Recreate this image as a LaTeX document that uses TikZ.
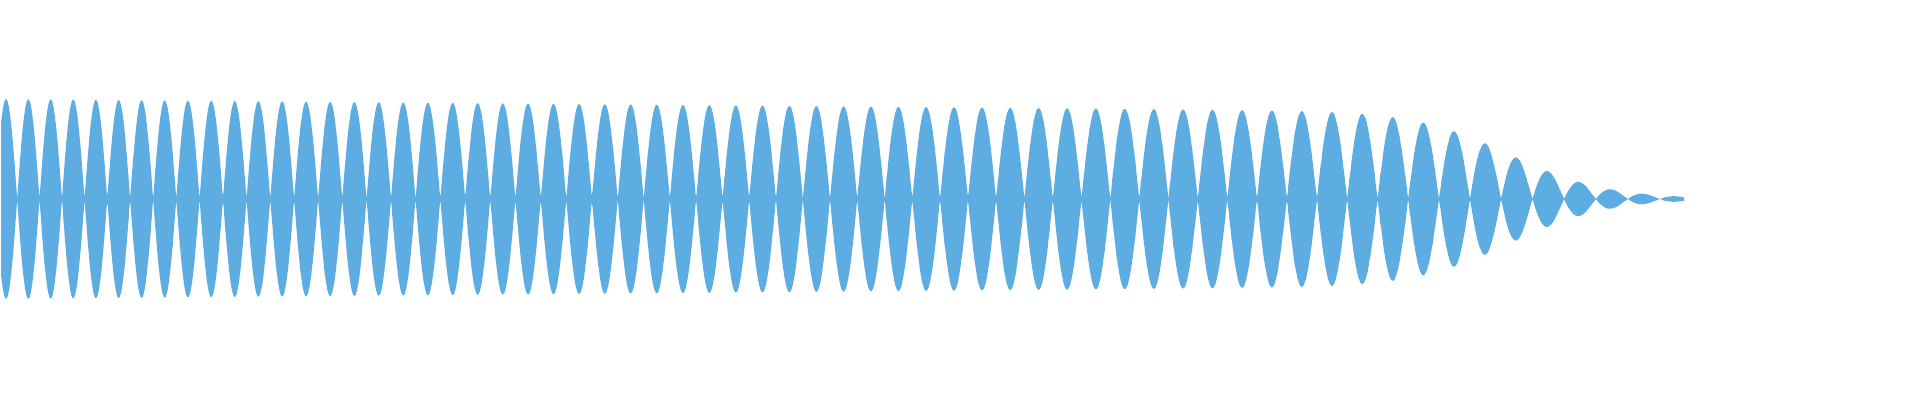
\documentclass[tikz,border=0pt]{standalone}
\definecolor{wave}{RGB}{93,173,226}
\begin{document}
\begin{tikzpicture}[x=1pt,y=1pt,
  declare function={
    env(\x)=(100-11*min(\x,1250)/1250)*(1-1/(1+exp(min(9,-9*((\x-1250)/433-0.6)))));
    ph(\x)=180*(164.47*ln(1+0.0002764*\x)+0.229);
    wv(\x)=env(\x)*abs(sin(ph(\x)));
  }]
\useasboundingbox (0,0) rectangle (1920,400);
\fill[wave] plot[domain=1:1684,samples=2400] (\x,{201+wv(\x)})
  -- plot[domain=1684:1,samples=2400] (\x,{201-wv(\x)}) -- cycle;
\end{tikzpicture}
\end{document}
